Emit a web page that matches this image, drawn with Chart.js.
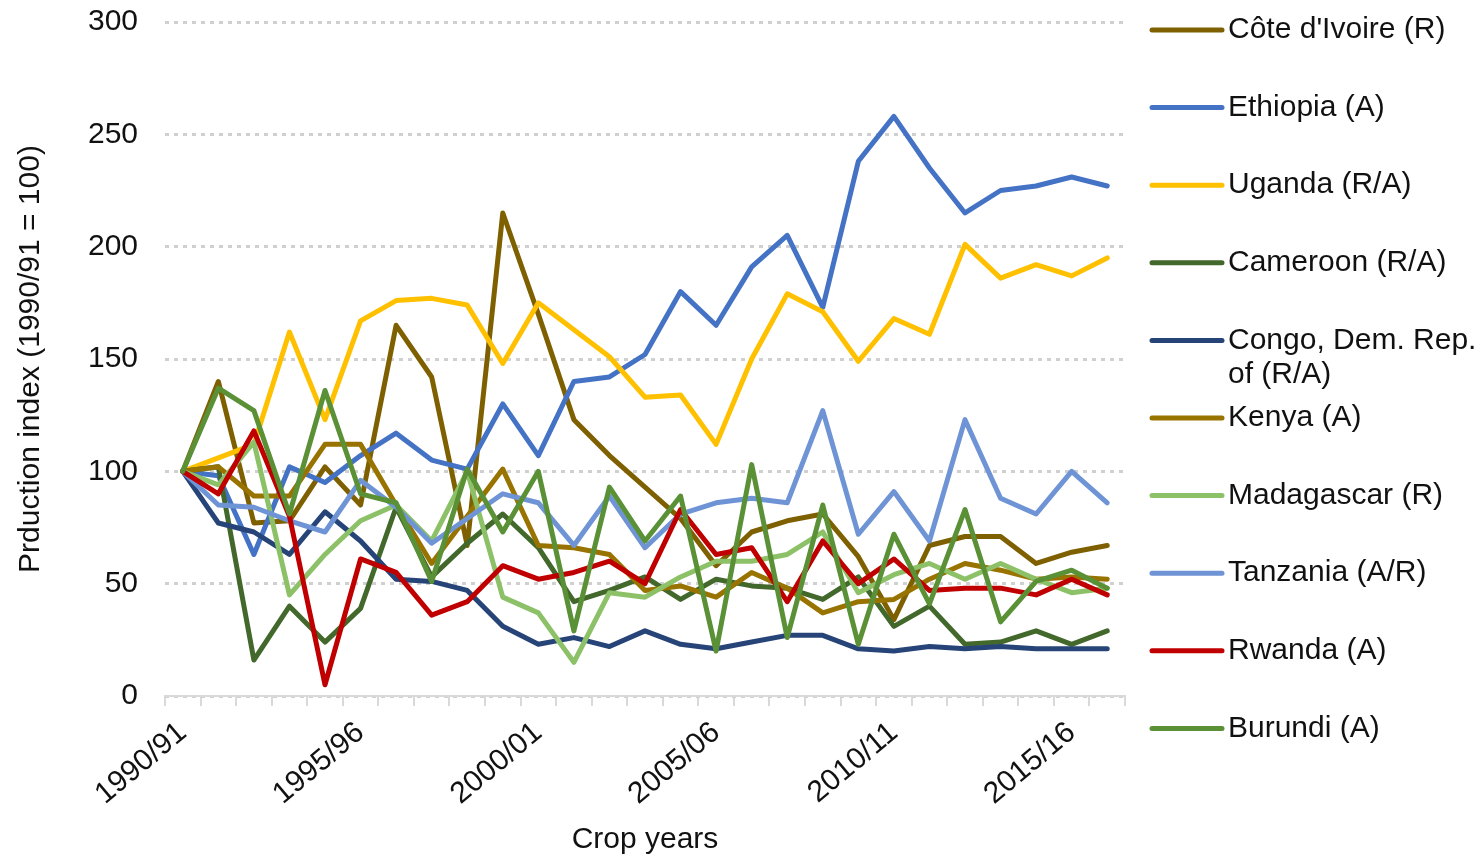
<!DOCTYPE html>
<html>
<head>
<meta charset="utf-8">
<script src="https://cdn.jsdelivr.net/npm/chart.js"></script>
<style>
  body { margin: 0; background: #fff; }
  #wrap { width: 1482px; height: 858px; }
</style>
</head>
<body>
<div id="wrap"><canvas id="myChart"></canvas></div>
<script>
// crop years shown on the x axis
var years = ['1990/91','1991/92','1992/93','1993/94','1994/95','1995/96','1996/97','1997/98','1998/99','1999/00',
             '2000/01','2001/02','2002/03','2003/04','2004/05','2005/06','2006/07','2007/08','2008/09','2009/10',
             '2010/11','2011/12','2012/13','2013/14','2014/15','2015/16','2016/17'];

// production index per country (1990/91 = 100)
var cote       = [100,140,77,78,102,85,165,142,67,215,170,123,107,93,79,58,73,78,81,62,34,67,71,71,59,64,67];
var ethiopia   = [100,98,63,102,95,107,117,105,101,130,107,140,142,152,180,165,191,205,173,238,258,235,215,225,227,231,227];
var uganda     = [100,106,112,162,123,167,176,177,174,148,175,163,151,133,134,112,150,179,171,149,168,161,201,186,192,187,195];
var cameroon   = [100,102,16,40,24,39,84,53,68,81,66,42,47,53,43,52,49,48,43,53,31,40,23,24,29,23,29];
var congo      = [100,77,73,63,82,69,52,51,47,31,23,26,22,29,23,21,24,27,27,21,20,22,21,22,21,21,21];
var kenya      = [100,102,89,89,112,112,85,59,80,101,67,66,63,47,49,44,55,48,37,42,43,52,59,56,52,53,52];
var madagascar = [100,94,113,45,63,78,85,69,100,44,37,15,46,44,53,60,60,63,73,46,54,59,52,59,52,46,48];
var tanzania   = [100,85,84,78,73,96,84,68,79,90,86,67,89,66,81,86,88,86,127,72,91,69,123,88,81,100,86];
var rwanda     = [100,90,118,80,5,61,55,36,42,58,52,55,60,50,83,63,66,42,69,50,61,47,48,48,45,52,45];
var burundi    = [100,137,127,81,136,90,86,51,101,73,100,29,93,69,89,20,103,26,85,23,72,41,83,33,51,56,48];

var names  = ["Côte d'Ivoire (R)", 'Ethiopia (A)', 'Uganda (R/A)', 'Cameroon (R/A)', 'Congo, Dem. Rep. of (R/A)',
              'Kenya (A)', 'Madagascar (R)', 'Tanzania (A/R)', 'Rwanda (A)', 'Burundi (A)'];
var series = [cote, ethiopia, uganda, cameroon, congo, kenya, madagascar, tanzania, rwanda, burundi];
var colors = ['#7F6000', '#4472C4', '#FFC000', '#43682B', '#264478', '#997300', '#8CC168', '#6F94D6', '#C00000', '#5B9136'];

var tickLabels = ['1990/91', '1995/96', '2000/01', '2005/06', '2010/11', '2015/16'];

var FONT = '"Liberation Sans", Arial, sans-serif';

// legend drawn at the right, with wrapping of long names
var sideLegend = {
  id: 'sideLegend',
  afterDraw: function(chart) {
    var ctx = chart.ctx;
    var area = chart.chartArea;
    var x0 = area.right + 27;
    var textX = x0 + 76;
    var maxW = chart.width - textX - 2;
    ctx.save();
    ctx.font = '30px ' + FONT;
    ctx.textBaseline = 'middle';
    ctx.textAlign = 'left';
    names.forEach(function(name, i) {
      var y = area.top + 8 + i * 77.6;
      ctx.strokeStyle = colors[i];
      ctx.lineWidth = 5;
      ctx.lineCap = 'round';
      ctx.beginPath();
      ctx.moveTo(x0, y);
      ctx.lineTo(x0 + 70, y);
      ctx.stroke();
      // simple word wrap
      var words = name.split(' ');
      var lines = [];
      var cur = '';
      words.forEach(function(w) {
        var test = cur ? cur + ' ' + w : w;
        if (ctx.measureText(test).width > maxW && cur) { lines.push(cur); cur = w; }
        else cur = test;
      });
      lines.push(cur);
      ctx.fillStyle = '#111';
      lines.forEach(function(t, j) { ctx.fillText(t, textX, y + j * 34); });
    });
    ctx.restore();
  }
};

var datasets = series.map(function(d, i) {
  return {
    label: names[i],
    data: d,
    borderColor: colors[i],
    backgroundColor: colors[i],
    borderWidth: 5,
    pointRadius: 0,
    tension: 0,
    fill: false,
    borderJoinStyle: 'round',
    borderCapStyle: 'round',
    order: series.length - i
  };
});

var ctx = document.getElementById('myChart').getContext('2d');
var chart = new Chart(ctx, {
  type: 'line',
  data: { labels: years, datasets: datasets },
  options: {
    responsive: true,
    maintainAspectRatio: false,
    animation: false,
    layout: { padding: { top: 22, right: 357, left: 0, bottom: 0 } },
    plugins: { legend: { display: false }, tooltip: { enabled: false } },
    scales: {
      x: {
        offset: true,
        afterFit: function(scale) {
          scale.height = 162;
          scale.paddingTop = 0;
          scale.paddingBottom = 0;
        },
        grid: { drawOnChartArea: false, drawTicks: true, tickLength: 10, color: '#D9D9D9', lineWidth: 2, offset: true },
        border: { display: true, color: '#D9D9D9', width: 2 },
        ticks: {
          autoSkip: false,
          minRotation: 40,
          maxRotation: 40,
          padding: 9,
          color: '#111',
          font: { family: FONT, size: 30 },
          callback: function(v, i) {
            var l = years[i];
            return tickLabels.indexOf(l) >= 0 ? l : '';
          }
        },
        title: { display: true, text: 'Crop years', color: '#111', font: { family: FONT, size: 30 }, padding: { top: 0, bottom: 0 } }
      },
      y: {
        min: 0,
        max: 300,
        afterFit: function(scale) {
          scale.width = 165;
          scale.paddingTop = 0;
          scale.paddingBottom = 0;
        },
        ticks: { stepSize: 50, padding: 27, color: '#111', font: { family: FONT, size: 30 } },
        grid: { color: '#D0D0D0', lineWidth: 3, drawTicks: false },
        border: { display: false, dash: [4, 5] },
        title: { display: true, text: 'Prduction index (1990/91 = 100)', color: '#111', font: { family: FONT, size: 30 }, padding: { top: 13, bottom: 0 } }
      }
    }
  },
  plugins: [sideLegend]
});
</script>
</body>
</html>
